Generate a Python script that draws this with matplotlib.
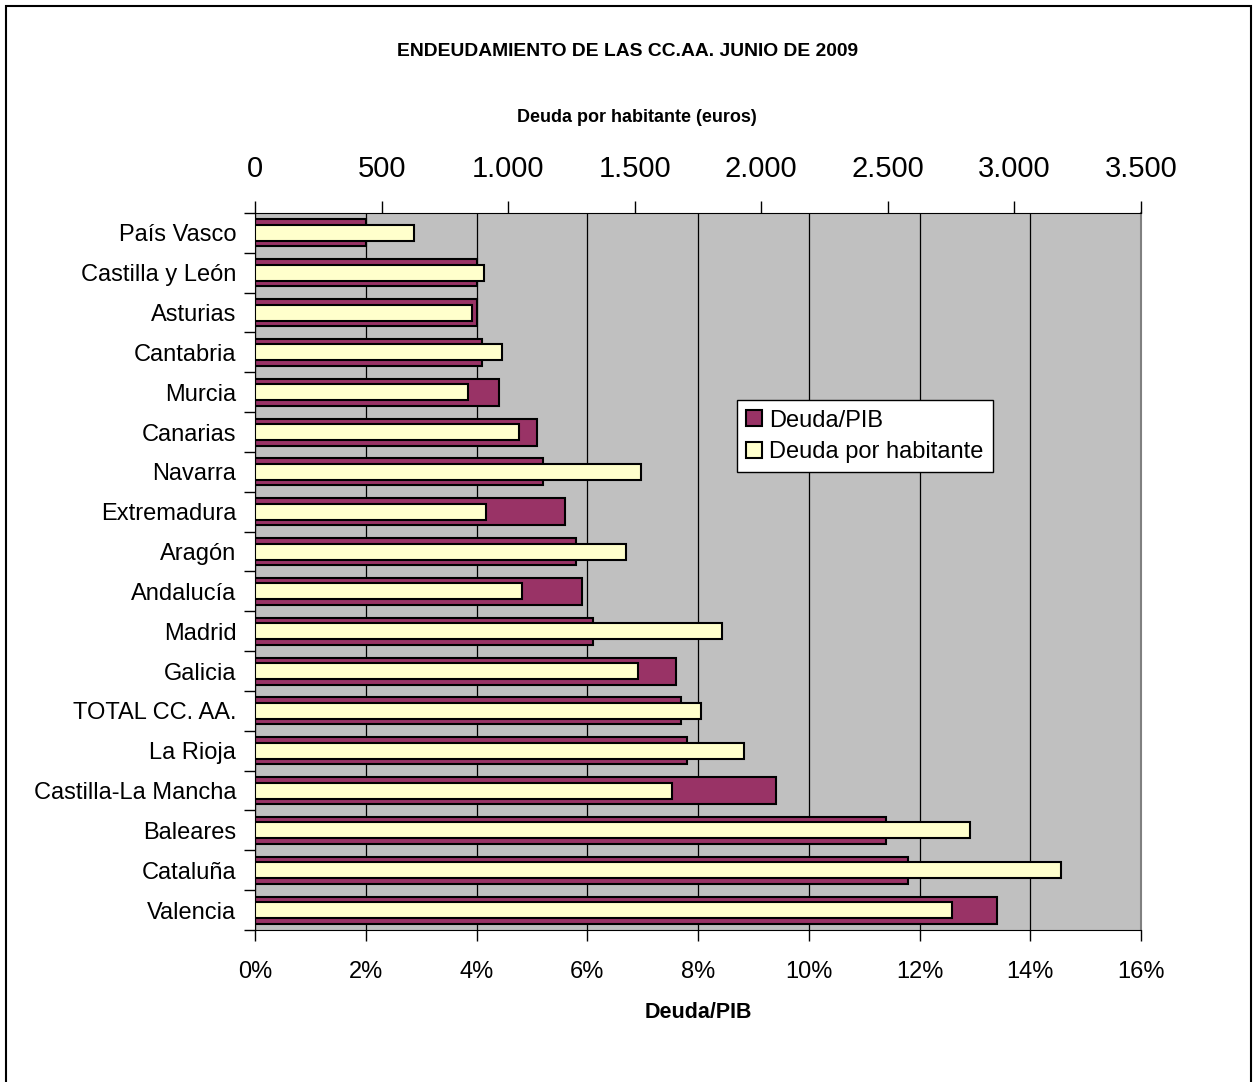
import matplotlib
matplotlib.use("Agg")
import matplotlib.pyplot as plt
import numpy as np
from matplotlib.patches import Rectangle
from matplotlib import font_manager

regions = ["País Vasco", "Castilla y León", "Asturias", "Cantabria", "Murcia",
           "Canarias", "Navarra", "Extremadura", "Aragón", "Andalucía", "Madrid",
           "Galicia", "TOTAL CC. AA.", "La Rioja", "Castilla-La Mancha",
           "Baleares", "Cataluña", "Valencia"]
deuda_pib = [2.0, 4.0, 4.0, 4.1, 4.4, 5.1, 5.2, 5.6, 5.8, 5.9, 6.1,
             7.6, 7.7, 7.8, 9.4, 11.4, 11.8, 13.4]
deuda_hab = [628, 906, 856, 974, 843, 1042, 1524, 911, 1466, 1055, 1843,
             1512, 1760, 1931, 1648, 2823, 3183, 2753]
pib_ticks = [0, 2, 4, 6, 8, 10, 12, 14, 16]
pib_labels = ["0%", "2%", "4%", "6%", "8%", "10%", "12%", "14%", "16%"]
hab_ticks = [0, 500, 1000, 1500, 2000, 2500, 3000, 3500]
hab_labels = ["0", "500", "1.000", "1.500", "2.000", "2.500", "3.000", "3.500"]

available = {f.name for f in font_manager.fontManager.ttflist}
has_narrow = "Liberation Sans Narrow" in available
narrow = "Liberation Sans Narrow" if has_narrow else "Liberation Sans"
plt.rcParams['font.family'] = ['Liberation Sans', 'DejaVu Sans']

W, H = 1254, 1082
fig = plt.figure(figsize=(W / 100, H / 100), dpi=100)
fig.patch.set_facecolor("white")

left, right, top, bottom = 255 / W, 1141 / W, 1 - 213 / H, 1 - 930 / H
ax = fig.add_axes([left, bottom, right - left, top - bottom])
ax.set_facecolor("#C0C0C0")
y = np.arange(len(regions))

b1 = ax.barh(y, deuda_pib, height=0.68, color="#993366", edgecolor="black",
             linewidth=1.5, label="Deuda/PIB", zorder=2)
ax.set_xlim(0, 16)
ax.set_ylim(len(regions) - 0.5, -0.5)
ax.set_xticks(pib_ticks)
ax.set_xticklabels(pib_labels, fontsize=17)
ax.tick_params(axis="x", direction="out", length=8, width=1, pad=14, colors="black")
ax.set_xlabel("Deuda/PIB", fontsize=15.5, fontweight="bold", labelpad=14)
ax.grid(axis="x", color="black", linewidth=0.9, zorder=1)
ax.set_axisbelow(True)

ax.set_yticks(np.arange(len(regions) + 1) - 0.5)
ax.set_yticklabels([])
ax.set_yticks(y, minor=True)
ax.set_yticklabels(regions, minor=True, fontsize=17)
ax.tick_params(axis="y", which="major", direction="out", length=8, width=1)
ax.tick_params(axis="y", which="minor", length=0, pad=13.5)

ax.spines["top"].set_visible(False)
ax.spines["right"].set_color("#808080")
ax.spines["right"].set_linewidth(1.5)
ax.spines["left"].set_color("black")
ax.spines["bottom"].set_color("black")

ax2 = ax.twiny()
ax2.patch.set_visible(False)
b2 = ax2.barh(y, deuda_hab, height=0.4, color="#FFFFCC", edgecolor="black",
              linewidth=1.5, label="Deuda por habitante", zorder=3)
ax2.set_xlim(0, 3500)
ax2.set_xticks(hab_ticks)
ax2.set_xticklabels(hab_labels, fontsize=21)
ax2.tick_params(axis="x", direction="out", length=9, width=1, pad=12.5)
for s in ["bottom", "left", "right"]:
    ax2.spines[s].set_visible(False)
ax2.spines["top"].set_color("black")

leg = ax2.legend([b1, b2], ["Deuda/PIB", "Deuda por habitante"],
                 loc="upper left", bbox_to_anchor=(0.544, 0.739),
                 borderaxespad=0, fontsize=17, frameon=True, fancybox=False,
                 framealpha=1, edgecolor="black", handlelength=0.65,
                 handleheight=0.65, handletextpad=0.3, borderpad=0.4,
                 labelspacing=0.4)
leg.get_frame().set_linewidth(1.0)
for h in leg.legend_handles:
    h.set_linewidth(1.5)

title_size = 17 if has_narrow else 13.9
sub_size = 15.5 if has_narrow else 13.0
fig.text(628 / W, 1 - 51 / H, "ENDEUDAMIENTO DE LAS CC.AA. JUNIO DE 2009",
         ha="center", va="center", fontsize=title_size, fontweight="bold",
         family=[narrow, "DejaVu Sans"])
fig.text(637 / W, 1 - 117 / H, "Deuda por habitante (euros)",
         ha="center", va="center", fontsize=sub_size, fontweight="bold",
         family=[narrow, "DejaVu Sans"])

fig.add_artist(Rectangle((6 / W, -0.01), (1251 - 6) / W, 1.01 - 6 / H,
                         transform=fig.transFigure, fill=False,
                         edgecolor="black", linewidth=1.5))

fig.savefig("out.png", dpi=100)
